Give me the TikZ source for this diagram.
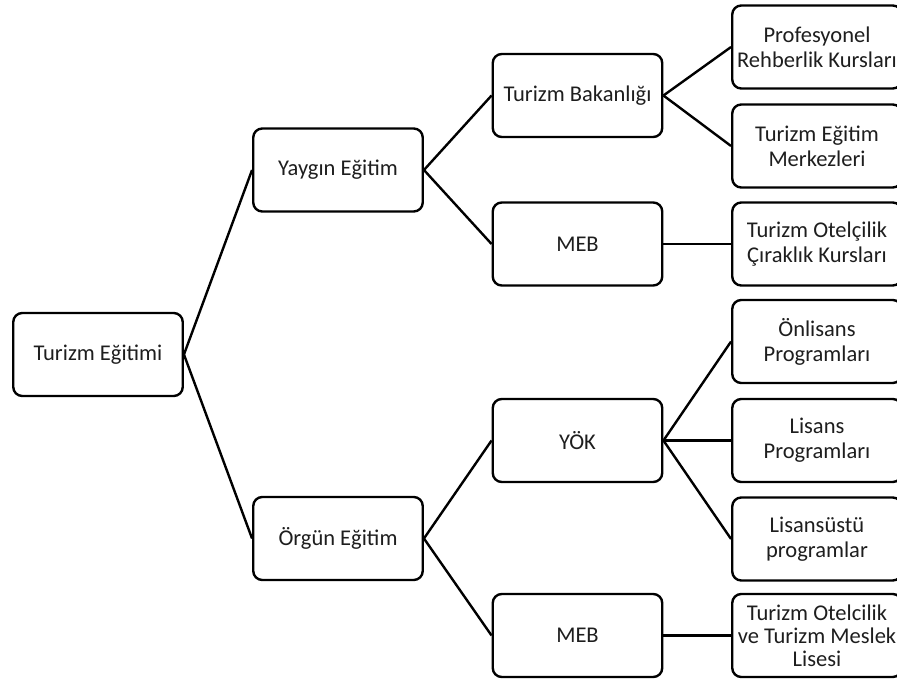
\documentclass[tikz,border=0pt]{standalone}
\usepackage{fontspec}
\setmainfont{Carlito}
\definecolor{txt}{RGB}{30,30,30}
\begin{document}
\begin{tikzpicture}[x=1pt,y=-1pt,
  box/.style={draw=black,line width=2.4pt,rounded corners=9pt,fill=white,
    minimum width=169.5pt,minimum height=83pt,inner sep=0pt,align=center,
    text=txt,font=\fontsize{22.5}{25}\selectfont},
  conn/.style={line width=2.4pt,black}]
\clip (0,0) rectangle (897,679);
\fill[white] (0,0) rectangle (897,679);
% level 0
\node[box] (te) at (98,354.5) {Turizm Eğitimi};
% level 1
\node[box] (ya) at (338,170) {Yaygın Eğitim};
\node[box] (or) at (338,538.5) {Örgün Eğitim};
% level 2
\node[box] (tb) at (577.5,95.5) {Turizm Bakanlığı};
\node[box] (meba) at (577.5,244) {MEB};
\node[box] (yok) at (577.5,440.5) {YÖK};
\node[box] (mebb) at (577.5,635.5) {MEB};
% level 3
\node[box] (pr) at (817,47) {Profesyonel\\Rehberlik Kursları};
\node[box] (tem) at (817,146) {Turizm Eğitim\\Merkezleri};
\node[box] (toc) at (817,244) {Turizm Otelçilik\\Çıraklık Kursları};
\node[box] (onl) at (817,341.5) {Önlisans\\Programları};
\node[box] (lis) at (817,440.5) {Lisans\\Programları};
\node[box] (lsu) at (817,539) {Lisansüstü\\programlar};
\node[box,font=\fontsize{22.5}{23}\selectfont] (tml) at (817,635.5) {Turizm Otelcilik\\ve Turizm Meslek\\Lisesi};
% connectors
\draw[conn] (te.east) -- (ya.west);
\draw[conn] (te.east) -- (or.west);
\draw[conn] (ya.east) -- (tb.west);
\draw[conn] (ya.east) -- (meba.west);
\draw[conn] (or.east) -- (yok.west);
\draw[conn] (or.east) -- (mebb.west);
\draw[conn] (tb.east) -- (pr.west);
\draw[conn] (tb.east) -- (tem.west);
\draw[conn] (meba.east) -- (toc.west);
\draw[conn] (yok.east) -- (onl.west);
\draw[conn] (yok.east) -- (lis.west);
\draw[conn] (yok.east) -- (lsu.west);
\draw[conn] (mebb.east) -- (tml.west);
\end{tikzpicture}
\end{document}
